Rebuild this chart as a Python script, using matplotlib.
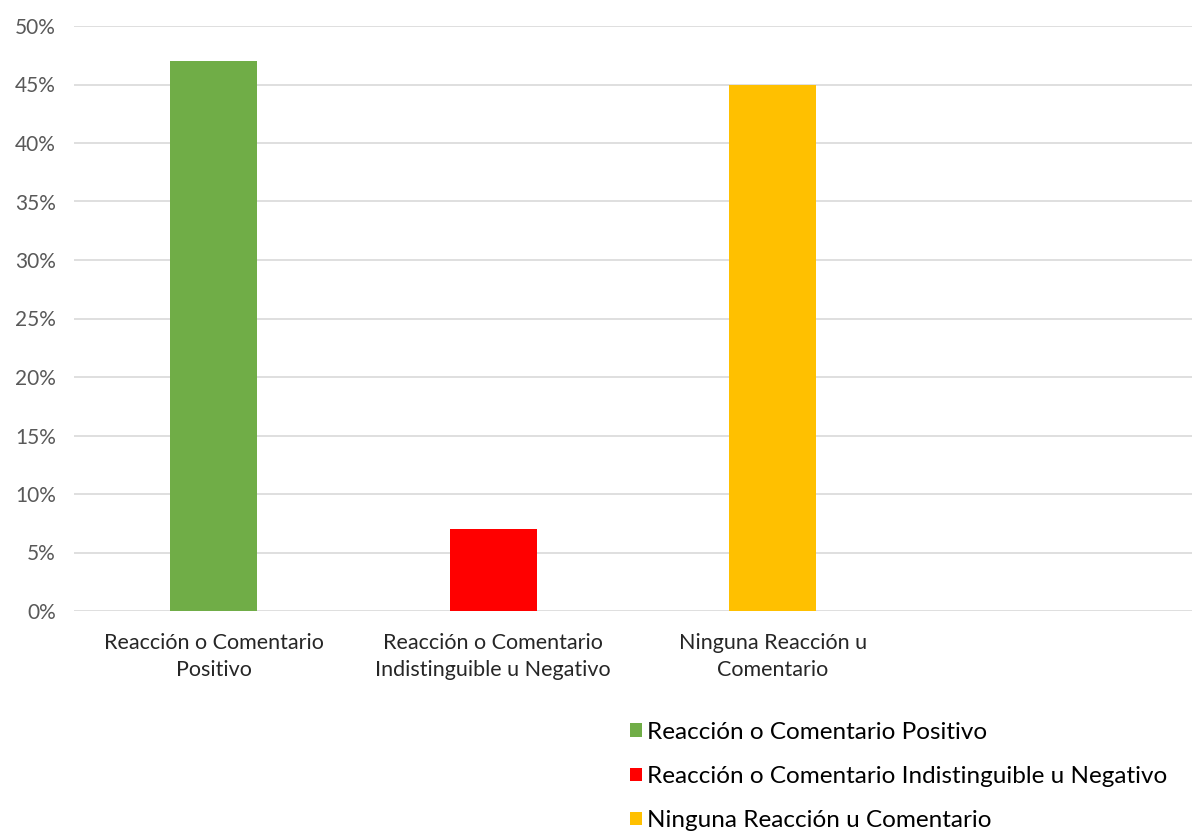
import matplotlib.pyplot as plt
from matplotlib.ticker import FuncFormatter

categorias = ["Reacción o Comentario\nPositivo",
              "Reacción o Comentario\nIndistinguible u Negativo",
              "Ninguna Reacción u\nComentario",
              ""]
series = ["Reacción o Comentario Positivo",
          "Reacción o Comentario Indistinguible u Negativo",
          "Ninguna Reacción u Comentario"]
valores = [0.47, 0.07, 0.45]
colores = ["#70ad47", "#ff0000", "#ffc000"]

plt.rcParams["font.family"] = ["Lato", "DejaVu Sans"]

fig = plt.figure(figsize=(11.92, 8.34), dpi=100)
ax = fig.add_axes([74 / 1192, 1 - 611 / 834, 1 - 74 / 1192, (611 - 26) / 834])

for i, (nombre, v, c) in enumerate(zip(series, valores, colores)):
    ax.bar(i, v, width=0.31, color=c, label=nombre, zorder=3)

ax.set_xlim(-0.5, 3.5)
ax.set_ylim(0, 0.5)
ax.set_yticks([i * 0.05 for i in range(11)])
ax.yaxis.set_major_formatter(FuncFormatter(lambda y, _: f"{y * 100:.0f}%"))
ax.set_xticks(range(4))
ax.set_xticklabels(categorias, fontsize=15.5, color="#262626", linespacing=1.45)
ax.tick_params(axis="y", labelsize=15, colors="#595959", length=0, pad=13)
ax.tick_params(axis="x", length=0, pad=16)
ax.grid(axis="y", color="#d9d9d9", linewidth=1.2, zorder=0)
for s in ax.spines.values():
    s.set_visible(False)

fig.legend(loc="upper left", bbox_to_anchor=(630 / 1192, 1 - 722 / 834),
           frameon=False, fontsize=17.5, handlelength=0.5, handleheight=0.5,
           handletextpad=0.2, labelspacing=0.95, borderpad=0, borderaxespad=0)

fig.savefig("out.png", dpi=100)
